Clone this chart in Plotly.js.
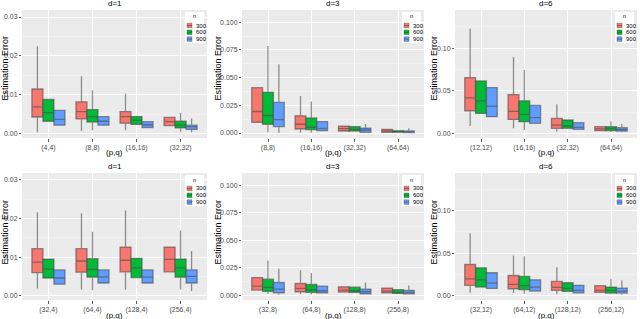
<!DOCTYPE html>
<html>
<head>
<meta charset="utf-8">
<script src="https://cdn.plot.ly/plotly-3.0.1.min.js"></script>
<style>html,body{margin:0;padding:0;background:#fff}#chart{width:640px;height:319px}</style>
</head>
<body>
<div id="chart"></div>
<script>
// ---- data ----
const nLevels = ['300', '600', '900'];
const colors = ['#F8766D', '#00BA38', '#619CFF'];
const panelTitles = ['d=1', 'd=3', 'd=6', 'd=1', 'd=3', 'd=6'];

const cats1 = ['(4,4)', '(8,8)', '(16,16)', '(32,32)'];
const cats2 = ['(8,8)', '(16,16)', '(32,32)', '(64,64)'];
const cats3 = ['(12,12)', '(16,16)', '(32,32)', '(64,64)'];
const cats4 = ['(32,4)', '(64,4)', '(128,4)', '(256,4)'];
const cats5 = ['(32,8)', '(64,8)', '(128,8)', '(256,8)'];
const cats6 = ['(32,12)', '(64,12)', '(128,12)', '(256,12)'];

// each: [n=300, n=600, n=900], values per category
const p1_lo  = [[0.0004,0.0007,0.0009,0.0021],[0.0032,0.0009,0.0024,0.0005],[0.0022,0.0022,0.0016,0.0004]];
const p1_q1  = [[0.0043,0.0038,0.0027,0.0021],[0.0032,0.0030,0.0024,0.0015],[0.0022,0.0022,0.0016,0.0011]];
const p1_med = [[0.0069,0.0057,0.0044,0.0031],[0.0054,0.0044,0.0035,0.0022],[0.0037,0.0032,0.0023,0.0018]];
const p1_q3  = [[0.0115,0.0082,0.0057,0.0042],[0.0088,0.0062,0.0044,0.0032],[0.0060,0.0044,0.0031,0.0022]];
const p1_hi  = [[0.0225,0.0148,0.0103,0.0042],[0.0088,0.0112,0.0044,0.0054],[0.0060,0.0044,0.0031,0.0039]];

const p2_lo  = [[0.0097,0.0003,0.0018,0.0006],[0.0006,0.0003,0.0018,0.0006],[0.0000,0.0021,0.0000,0.0003]];
const p2_q1  = [[0.0097,0.0036,0.0018,0.0006],[0.0079,0.0030,0.0018,0.0006],[0.0058,0.0021,0.0006,0.0003]];
const p2_med = [[0.0194,0.0079,0.0039,0.0018],[0.0158,0.0052,0.0033,0.0012],[0.0121,0.0042,0.0027,0.0012]];
const p2_q3  = [[0.0409,0.0155,0.0061,0.0033],[0.0367,0.0136,0.0058,0.0021],[0.0276,0.0103,0.0045,0.0018]];
const p2_hi  = [[0.0409,0.0333,0.0061,0.0033],[0.0785,0.0285,0.0058,0.0021],[0.0621,0.0103,0.0082,0.0042]];

const p3_lo  = [[0.0086,0.0058,0.0019,0.0031],[0.0233,0.0039,0.0058,0.0016],[0.0195,0.0117,0.0047,0.0012]];
const p3_q1  = [[0.0265,0.0163,0.0058,0.0031],[0.0233,0.0136,0.0058,0.0031],[0.0195,0.0117,0.0047,0.0027]];
const p3_med = [[0.0416,0.0257,0.0097,0.0051],[0.0381,0.0222,0.0086,0.0058],[0.0319,0.0183,0.0070,0.0047]];
const p3_q3  = [[0.0654,0.0455,0.0175,0.0078],[0.0615,0.0381,0.0156,0.0078],[0.0537,0.0327,0.0125,0.0066]];
const p3_hi  = [[0.1226,0.0895,0.0342,0.0078],[0.0615,0.0747,0.0156,0.0140],[0.0537,0.0327,0.0125,0.0109]];

const p4_lo  = [[0.0019,0.0016,0.0016,0.0062],[0.0046,0.0014,0.0047,0.0016],[0.0030,0.0033,0.0033,0.0012]];
const p4_q1  = [[0.0060,0.0061,0.0062,0.0062],[0.0046,0.0048,0.0047,0.0048],[0.0030,0.0033,0.0033,0.0033]];
const p4_med = [[0.0087,0.0090,0.0092,0.0094],[0.0069,0.0068,0.0072,0.0072],[0.0046,0.0049,0.0048,0.0050]];
const p4_q3  = [[0.0122,0.0122,0.0126,0.0126],[0.0095,0.0096,0.0097,0.0095],[0.0067,0.0067,0.0067,0.0067]];
const p4_hi  = [[0.0216,0.0214,0.0221,0.0126],[0.0095,0.0166,0.0097,0.0169],[0.0067,0.0067,0.0067,0.0116]];

const p5_lo  = [[0.0045,0.0009,0.0027,0.0021],[0.0009,0.0006,0.0024,0.0015],[0.0006,0.0021,0.0006,0.0006]];
const p5_q1  = [[0.0045,0.0030,0.0027,0.0021],[0.0033,0.0024,0.0024,0.0015],[0.0021,0.0021,0.0012,0.0012]];
const p5_med = [[0.0081,0.0060,0.0045,0.0036],[0.0069,0.0048,0.0039,0.0024],[0.0054,0.0039,0.0030,0.0027]];
const p5_q3  = [[0.0159,0.0105,0.0075,0.0063],[0.0144,0.0096,0.0072,0.0048],[0.0114,0.0081,0.0054,0.0042]];
const p5_hi  = [[0.0159,0.0225,0.0075,0.0063],[0.0315,0.0201,0.0072,0.0048],[0.0237,0.0081,0.0114,0.0087]];

const p6_lo  = [[0.0031,0.0027,0.0012,0.0035],[0.0098,0.0020,0.0047,0.0012],[0.0082,0.0051,0.0031,0.0008]];
const p6_q1  = [[0.0118,0.0078,0.0059,0.0035],[0.0098,0.0067,0.0047,0.0027],[0.0082,0.0051,0.0031,0.0027]];
const p6_med = [[0.0196,0.0129,0.0094,0.0059],[0.0184,0.0114,0.0082,0.0059],[0.0145,0.0098,0.0059,0.0051]];
const p6_q3  = [[0.0365,0.0235,0.0165,0.0114],[0.0325,0.0224,0.0149,0.0098],[0.0267,0.0184,0.0118,0.0086]];
const p6_hi  = [[0.0733,0.0471,0.0333,0.0114],[0.0325,0.0463,0.0149,0.0196],[0.0267,0.0184,0.0118,0.0176]];

const panels = [
  {cats: cats1, lo: p1_lo, q1: p1_q1, med: p1_med, q3: p1_q3, hi: p1_hi},
  {cats: cats2, lo: p2_lo, q1: p2_q1, med: p2_med, q3: p2_q3, hi: p2_hi},
  {cats: cats3, lo: p3_lo, q1: p3_q1, med: p3_med, q3: p3_q3, hi: p3_hi},
  {cats: cats4, lo: p4_lo, q1: p4_q1, med: p4_med, q3: p4_q3, hi: p4_hi},
  {cats: cats5, lo: p5_lo, q1: p5_q1, med: p5_med, q3: p5_q3, hi: p5_hi},
  {cats: cats6, lo: p6_lo, q1: p6_q1, med: p6_med, q3: p6_q3, hi: p6_hi}
];

// ---- layout geometry (pixels) ----
const W = 640, H = 319;
const colPx = [[22, 207], [242, 424], [455, 637]];
const rowPx = [[10, 138], [173, 300]];
const yTitleX = [4.5, 217.5, 433.5];
const yTitleY = [68, 232];
const yRanges = [[-0.0011, 0.0318], [-0.0045, 0.111], [-0.0055, 0.1447]];
const yDtick = [0.01, 0.025, 0.05];
const yFmt = ['.2f', '.3f', '.2f'];
const FONT = 'Liberation Sans, Arial, sans-serif';
const px = v => v / W;
const py = v => (H - v) / H;

const traces = [];
const layout = {
  width: W, height: H,
  margin: {l: 0, r: 0, t: 0, b: 0},
  paper_bgcolor: '#ffffff',
  plot_bgcolor: '#EBEBEB',
  font: {family: FONT, size: 7, color: '#4D4D4D'},
  boxmode: 'group',
  boxgap: 0.25,
  boxgroupgap: 0,
  showlegend: false,
  annotations: [],
  shapes: []
};

panels.forEach((p, i) => {
  const col = i % 3, row = Math.floor(i / 3);
  const sfx = i === 0 ? '' : String(i + 1);
  const xa = 'x' + sfx, ya = 'y' + sfx;
  const L = colPx[col][0], R = colPx[col][1], T = rowPx[row][0], B = rowPx[row][1];

  nLevels.forEach((n, k) => {
    traces.push({
      type: 'box',
      name: n,
      x: p.cats,
      q1: p.q1[k], median: p.med[k], q3: p.q3[k],
      lowerfence: p.lo[k], upperfence: p.hi[k],
      xaxis: xa, yaxis: ya,
      offsetgroup: n,
      fillcolor: colors[k],
      line: {color: 'rgba(75,75,75,0.6)', width: 1.3},
      whiskerwidth: 0,
      boxpoints: false,
      showlegend: false,
      hoverinfo: 'skip'
    });
  });

  layout['xaxis' + sfx] = {
    domain: [px(L), px(R)], anchor: ya,
    type: 'category', categoryorder: 'array', categoryarray: p.cats,
    range: [-0.6, 3.6],
    showgrid: true, gridcolor: '#ffffff', gridwidth: 1,
    zeroline: false, showline: false,
    ticks: 'outside', ticklen: 2.5, tickcolor: '#333333', tickwidth: 0.8,
    tickfont: {size: 7, color: '#4D4D4D', family: FONT},
    fixedrange: true
  };
  layout['yaxis' + sfx] = {
    domain: [py(B), py(T)], anchor: xa,
    range: yRanges[col],
    dtick: yDtick[col], tick0: 0, tickformat: yFmt[col],
    showgrid: true, gridcolor: '#ffffff', gridwidth: 1,
    minor: {dtick: yDtick[col] / 2, tick0: yDtick[col] / 2, showgrid: true, gridcolor: '#F5F5F5', gridwidth: 0.6, ticks: ''},
    zeroline: false, showline: false,
    ticks: 'outside', ticklen: 2, tickcolor: '#333333', tickwidth: 0.8,
    tickfont: {size: 7, color: '#4D4D4D', family: FONT},
    fixedrange: true
  };

  // panel title
  layout.annotations.push({
    xref: 'paper', yref: 'paper', x: px((L + R) / 2), y: py(row === 0 ? 4 : 166),
    xanchor: 'center', yanchor: 'middle', text: panelTitles[i], showarrow: false,
    font: {size: 8, color: '#000000', family: FONT}
  });
  // x-axis title
  layout.annotations.push({
    xref: 'paper', yref: 'paper', x: px((L + R) / 2), y: py(B + 15),
    xanchor: 'center', yanchor: 'middle', text: '(p,q)', showarrow: false,
    font: {size: 8, color: '#000000', family: FONT}
  });
  // y-axis title
  layout.annotations.push({
    xref: 'paper', yref: 'paper', x: px(yTitleX[col]), y: py(yTitleY[row]),
    xanchor: 'center', yanchor: 'middle', textangle: -90, text: 'Estimation Error', showarrow: false,
    font: {size: 9, color: '#000000', family: FONT}
  });

  // legend (drawn as a small key box in the panel's top-right corner)
  const lx0 = R - 22, lx1 = R - 3, ly0 = T + 2, ly1 = T + 33;
  layout.shapes.push({type: 'rect', xref: 'paper', yref: 'paper',
    x0: px(lx0), x1: px(lx1), y0: py(ly1), y1: py(ly0),
    fillcolor: '#ffffff', line: {width: 0}, layer: 'above'});
  layout.annotations.push({
    xref: 'paper', yref: 'paper', x: px((lx0 + lx1) / 2), y: py(T + 6.5),
    xanchor: 'center', yanchor: 'middle', text: 'n', showarrow: false,
    font: {size: 5.5, color: '#000000', family: FONT}
  });
  nLevels.forEach((n, k) => {
    const cy = T + 15.5 + k * 6.8;
    layout.shapes.push({type: 'rect', xref: 'paper', yref: 'paper',
      x0: px(lx0 + 2), x1: px(lx0 + 7), y0: py(cy + 2.3), y1: py(cy - 2.3),
      fillcolor: colors[k], line: {color: 'rgba(70,70,70,0.6)', width: 0.6}, layer: 'above'});
    layout.shapes.push({type: 'line', xref: 'paper', yref: 'paper',
      x0: px(lx0 + 2), x1: px(lx0 + 7), y0: py(cy), y1: py(cy),
      line: {color: 'rgba(50,50,50,0.8)', width: 0.6}, layer: 'above'});
    layout.annotations.push({
      xref: 'paper', yref: 'paper', x: px(lx0 + 8.5), y: py(cy),
      xanchor: 'left', yanchor: 'middle', text: n, showarrow: false,
      font: {size: 6, color: '#000000', family: FONT}
    });
  });
});

Plotly.newPlot('chart', traces, layout, {displayModeBar: false, staticPlot: true});
</script>
</body>
</html>
